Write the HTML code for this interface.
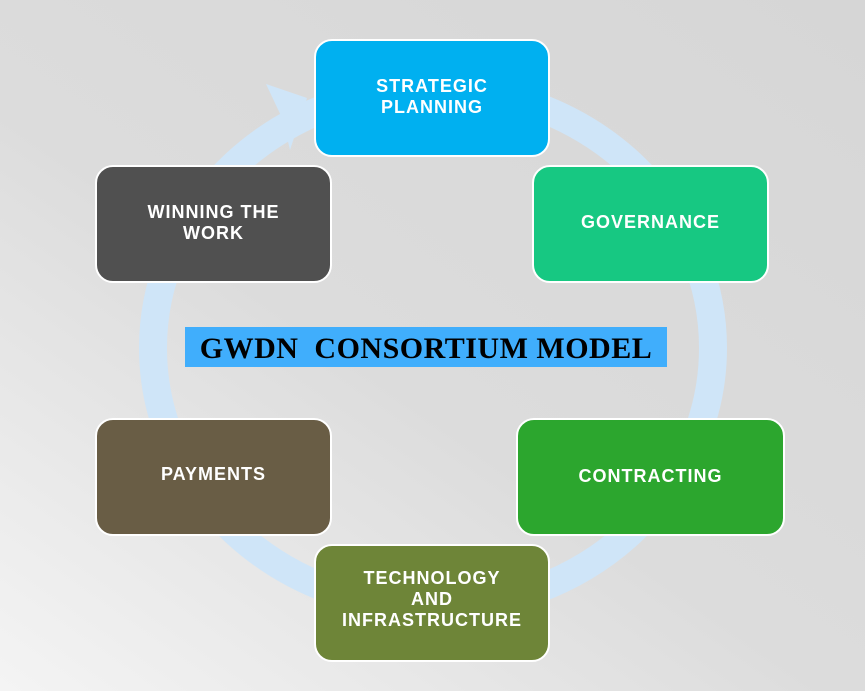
<!DOCTYPE html>
<html><head><style>
body{margin:0;width:865px;height:691px;overflow:hidden;background:linear-gradient(35deg,#f4f4f4 0%,#dcdcdc 45%,#d6d6d6 100%);font-family:"Liberation Sans",sans-serif;position:relative}
.b{position:absolute;box-sizing:border-box;border:2px solid #fff;border-radius:18px;color:#fff;font-weight:bold;font-size:18px;letter-spacing:1px;text-align:center;line-height:21px}
.t{position:absolute;left:0;right:0;text-align:center}
svg{position:absolute;left:0;top:0}
</style></head><body>
<svg width="865" height="691">
<ellipse cx="433" cy="348" rx="280" ry="260" fill="none" stroke="#cfe5f8" stroke-width="28"/>
<polygon points="266,84 307,98 290,150 283,120" fill="#cfe5f8"/>
</svg>
<div class="b" style="left:314px;top:39px;width:236px;height:118px;background:#00b0f0"><div class="t" style="top:35px">STRATEGIC<br>PLANNING</div></div>
<div class="b" style="left:532px;top:165px;width:237px;height:118px;background:#17c882"><div class="t" style="top:45px">GOVERNANCE</div></div>
<div class="b" style="left:95px;top:165px;width:237px;height:118px;background:#505050"><div class="t" style="top:35px">WINNING THE<br>WORK</div></div>
<div class="b" style="left:95px;top:418px;width:237px;height:118px;background:#695d45"><div class="t" style="top:44px">PAYMENTS</div></div>
<div class="b" style="left:516px;top:418px;width:269px;height:118px;background:#2ca62e"><div class="t" style="top:46px">CONTRACTING</div></div>
<div class="b" style="left:314px;top:544px;width:236px;height:118px;background:#6e8538"><div class="t" style="top:22px">TECHNOLOGY<br>AND<br>INFRASTRUCTURE</div></div>
<div style="position:absolute;left:185px;top:327px;width:482px;height:40px;background:#40aefc;font-family:'Liberation Serif',serif;font-weight:bold;font-size:30px;line-height:44px;text-align:center;color:#000;white-space:pre;letter-spacing:0.5px">GWDN  CONSORTIUM MODEL</div>
</body></html>
